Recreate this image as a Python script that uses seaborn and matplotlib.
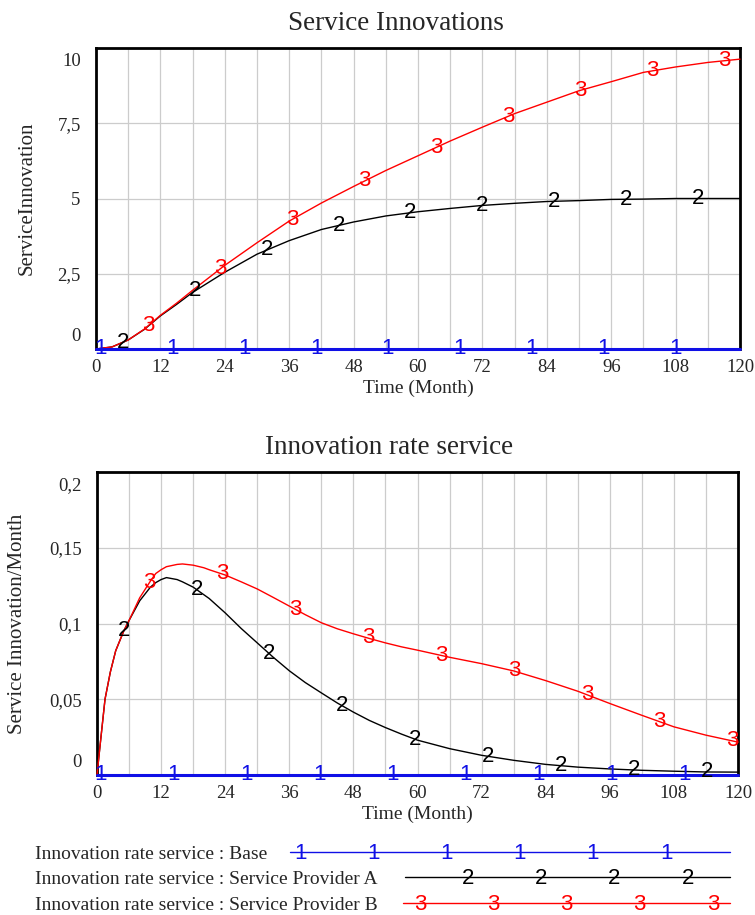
import numpy as np
import pandas as pd
import matplotlib
matplotlib.use("Agg")
import matplotlib.pyplot as plt
import seaborn as sns

# ---- data ------------------------------------------------------------
top_t = [0, 3, 6, 9, 12, 15, 18, 24, 30, 36, 42, 48, 54, 60, 66, 72, 78, 84, 90,
         96, 102, 108, 114, 120]
innov_base = [0] * len(top_t)
innov_A = [0, 0.07, 0.3, 0.65, 1.1, 1.48, 1.88, 2.55, 3.15, 3.6, 3.97, 4.22, 4.42,
           4.56, 4.67, 4.77, 4.84, 4.9, 4.93, 4.97, 4.98, 5.0, 5.0, 5.0]
innov_B = [0, 0.07, 0.3, 0.66, 1.12, 1.52, 1.95, 2.78, 3.53, 4.25, 4.85, 5.4, 5.93,
           6.42, 6.91, 7.37, 7.82, 8.2, 8.58, 8.88, 9.19, 9.37, 9.52, 9.63]

rate_t = [0, 0.5, 1.5, 2.5, 3.5, 5, 6, 8, 10, 11, 12, 13, 15, 16, 18, 20, 21, 24,
          27, 30, 33, 36, 39, 42, 45, 48, 51, 54, 57, 60, 66, 72, 78, 84, 90, 96,
          102, 108, 114, 120]
rate_base = [0] * len(rate_t)
rate_A = [0, 0.017, 0.05, 0.068, 0.082, 0.095, 0.102, 0.115, 0.124, 0.127, 0.129,
          0.1303, 0.129, 0.1275, 0.124, 0.119, 0.1165, 0.107, 0.0967, 0.0872,
          0.0777, 0.0688, 0.061, 0.0542, 0.0475, 0.0415, 0.036, 0.0313, 0.027,
          0.023, 0.0174, 0.013, 0.0097, 0.007, 0.0052, 0.004, 0.0031, 0.0025,
          0.002, 0.0019]
rate_B = [0, 0.017, 0.05, 0.068, 0.082, 0.095, 0.102, 0.117, 0.128, 0.133, 0.1355,
          0.1375, 0.139, 0.1393, 0.1385, 0.1368, 0.1355, 0.132, 0.1275, 0.1228,
          0.1172, 0.1115, 0.1058, 0.1005, 0.0965, 0.0932, 0.0901, 0.0872, 0.0846,
          0.0824, 0.0777, 0.0735, 0.0687, 0.0623, 0.0553, 0.0472, 0.0394, 0.0318,
          0.0263, 0.0217]

x_ticks = list(range(0, 121, 12))
top_yticks = [0, 2.5, 5, 7.5, 10]
top_ylabels = ["0", "2,5", "5", "7,5", "10"]
rate_yticks = [0, 0.05, 0.1, 0.15, 0.2]
rate_ylabels = ["0", "0,05", "0,1", "0,15", "0,2"]

series_names = ["Base", "Service Provider A", "Service Provider B"]
series_tags = ["1", "2", "3"]
colors = ["#1010e6", "black", "red"]

# ---- style -----------------------------------------------------------
sns.set_style("white")
plt.rcParams["font.family"] = ["Liberation Serif", "DejaVu Serif"]
SANS = ["Liberation Sans", "DejaVu Sans"]
TAG_SIZE = 16
TICK_SIZE = 13.5

fig = plt.figure(figsize=(7.55, 9.15), dpi=100)
W, H = 755, 915
ax1 = fig.add_axes([96 / W, 1 - 349 / H, 644 / W, 301 / H])
ax2 = fig.add_axes([97 / W, 1 - 775 / H, 641 / W, 303 / H])


def tag_line(ax, t, vals, tag, color, start, step):
    # Vensim style numbered markers sitting on the curve
    pos = np.arange(start, 120, step)
    ys = np.interp(pos, t, vals)
    for p, v in zip(pos, ys):
        ax.annotate(tag, xy=(p, v), xytext=(0, -3.8), textcoords="offset points",
                    ha="center", va="baseline", fontsize=TAG_SIZE, color=color,
                    family=SANS, zorder=6, annotation_clip=False)


def style_axes(ax, yticks, ylabels, ymax, title, ylabel, title_x):
    ax.set_xlim(0, 120)
    ax.set_ylim(0, ymax)
    ax.set_xticks(x_ticks)
    ax.set_xticks(range(6, 120, 12), minor=True)
    ax.set_yticks(yticks)
    ax.set_yticklabels([""] + ylabels[1:-1] + [""])
    ax.grid(True, which="both", axis="x", color="#cccccc", lw=0.9)
    ax.grid(True, which="major", axis="y", color="#cccccc", lw=0.9)
    ax.tick_params(axis="y", length=0, pad=11, labelsize=TICK_SIZE)
    ax.tick_params(axis="x", which="both", length=0, pad=7.5, labelsize=TICK_SIZE)
    for s in ["left", "top", "right"]:
        ax.spines[s].set_linewidth(2)
        ax.spines[s].set_color("black")
    ax.spines["bottom"].set_visible(False)
    # end labels are nudged inwards, as in the original
    ax.annotate(ylabels[0], xy=(0, yticks[0]), xycoords=("axes fraction", "data"),
                xytext=(-11, 9), textcoords="offset points", ha="right",
                va="center", fontsize=TICK_SIZE)
    ax.annotate(ylabels[-1], xy=(0, yticks[-1]), xycoords=("axes fraction", "data"),
                xytext=(-11, -9.5), textcoords="offset points", ha="right",
                va="center", fontsize=TICK_SIZE)
    ax.set_title(title, fontsize=19.5, pad=13, x=title_x)
    ax.set_xlabel("Time (Month)", fontsize=14, labelpad=2)
    ax.set_ylabel(ylabel, fontsize=15)


# ---- top chart -------------------------------------------------------
top_df = pd.DataFrame({"t": top_t, "Base": innov_base,
                       "Service Provider A": innov_A, "Service Provider B": innov_B})
for name, col in zip(series_names, colors):
    lw = 2.2 if name == "Base" else 1.0
    sns.lineplot(data=top_df, x="t", y=name, color=col, lw=lw, ax=ax1,
                 clip_on=False, zorder=5 if name == "Base" else 4)
for name, tag, col, st in zip(series_names, series_tags, colors, [0.8, 5.0, 9.8]):
    tag_line(ax1, top_t, top_df[name], tag, col, st, 13.4)
style_axes(ax1, top_yticks, top_ylabels, 10, "Service Innovations",
           "ServiceInnovation", 0.465)
ax1.yaxis.set_label_coords(-0.092, 0.5)

# ---- bottom chart ----------------------------------------------------
rate_df = pd.DataFrame({"t": rate_t, "Base": rate_base,
                        "Service Provider A": rate_A, "Service Provider B": rate_B})
for name, col in zip(series_names, colors):
    lw = 2.2 if name == "Base" else 1.0
    sns.lineplot(data=rate_df, x="t", y=name, color=col, lw=lw, ax=ax2,
                 clip_on=False, zorder=5 if name == "Base" else 4)
for name, tag, col, st in zip(series_names, series_tags, colors, [0.7, 5.0, 9.8]):
    tag_line(ax2, rate_t, rate_df[name], tag, col, st, 13.65)
style_axes(ax2, rate_yticks, rate_ylabels, 0.2, "Innovation rate service",
           "Service Innovation/Month", 0.456)
ax2.yaxis.set_label_coords(-0.109, 0.5)

# ---- legend (drawn in pixel coordinates) -----------------------------
axl = fig.add_axes([0, 0, 1, 100 / H])
axl.set_xlim(0, W)
axl.set_ylim(H, H - 100)
axl.axis("off")
row_base = [859, 884.5, 910]
line_start = [290, 405, 403]
tag_first = [300, 468, 420]
for name, tag, col, yb, x0, xf in zip(series_names, series_tags, colors,
                                      row_base, line_start, tag_first):
    axl.text(35, yb, "Innovation rate service : " + name, fontsize=14,
             va="baseline", ha="left")
    ly = yb - 7.5
    axl.plot([x0, 730], [ly, ly], color=col, lw=1.0)
    for xm in np.arange(xf, 730, 73.2):
        axl.annotate(tag, xy=(xm, ly), xytext=(0, -5.4), textcoords="offset points",
                     ha="center", va="baseline", fontsize=TAG_SIZE, color=col,
                     family=SANS)

fig.savefig("out.png", dpi=100)
